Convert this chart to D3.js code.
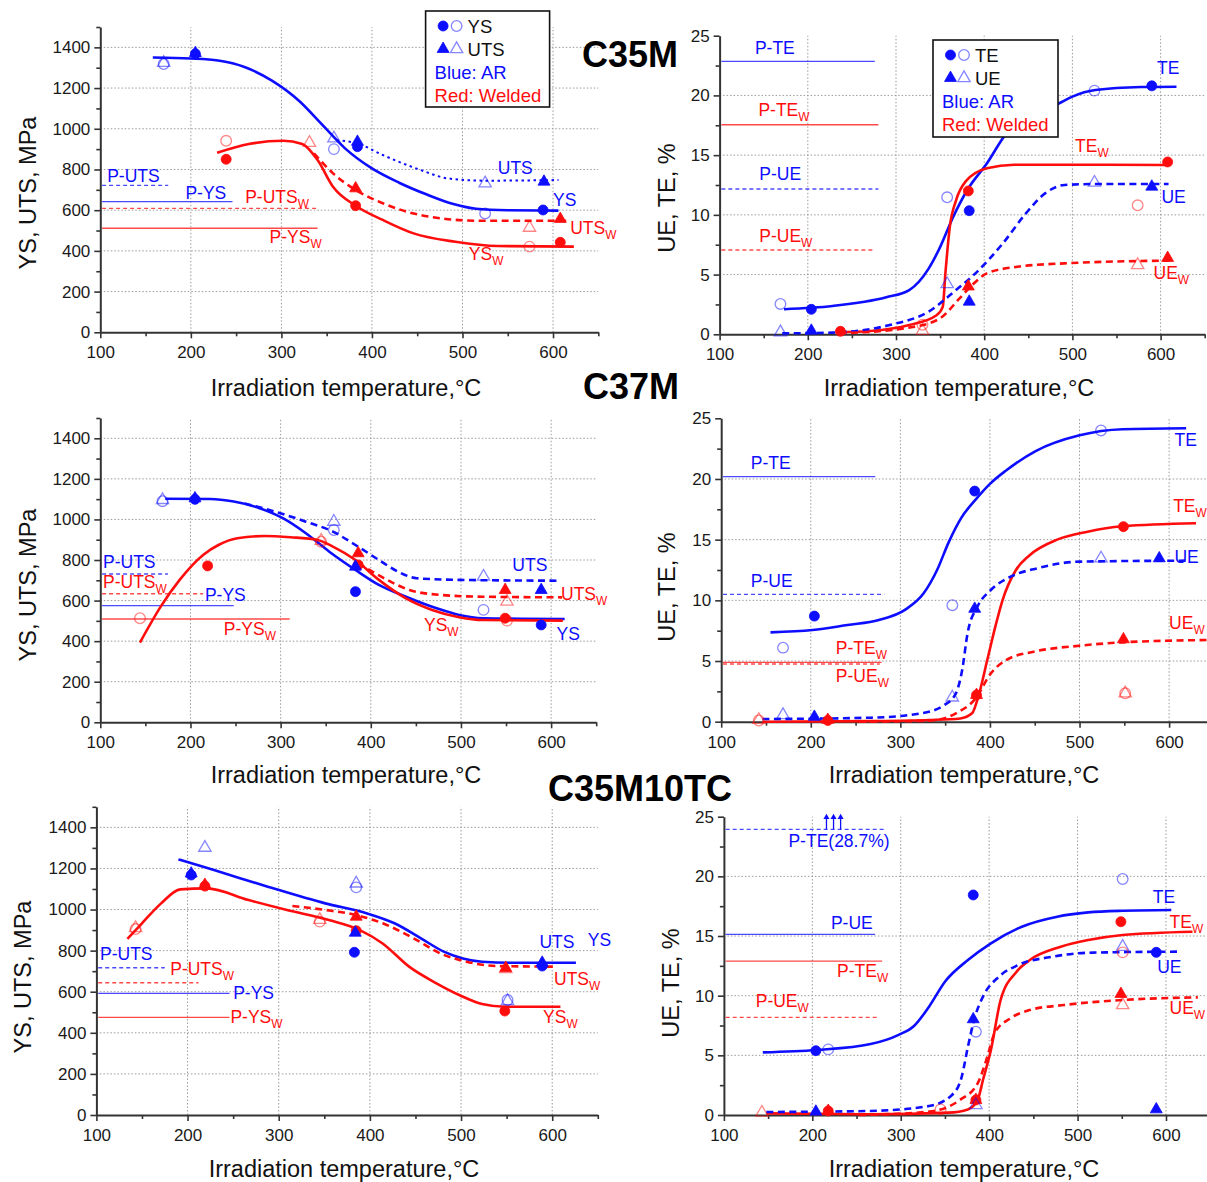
<!DOCTYPE html>
<html>
<head>
<meta charset="utf-8">
<script src="https://cdn.jsdelivr.net/npm/d3@7"></script>
<style>
  body { margin: 0; background: #fff; }
  svg { display: block; }
</style>
</head>
<body>
<svg id="fig" width="1207" height="1182"></svg>
<script>
// ticks
const tempTicks = [100, 200, 300, 400, 500, 600]
const tempMinor = [150, 250, 350, 450, 550, 650]
const strengthTicks = [0, 200, 400, 600, 800, 1000, 1200, 1400]
const strengthMinor = [100, 300, 500, 700, 900, 1100, 1300, 1500]
const elongTicks = [0, 5, 10, 15, 20, 25]
const elongMinor = [2.5, 7.5, 12.5, 17.5, 22.5]

// ---- C35M, strength ----
const c35m_YS = [[158,1350],[200,1345],[230,1335],[260,1302],[290,1235],[320,1135],[345,1020],[370,905],[400,805],[430,735],[460,678],[490,630],[515,607],[550,600],[606,598]]
const c35m_UTS = [[361,944],[384,928],[412,871],[454,797],[484,756],[526,745],[606,748]]
const c35m_YSw = [[229,882],[264,925],[302,941],[323,925],[340,846],[357,715],[382,622],[412,552],[446,486],[492,445],[539,424],[623,421]]
const c35m_UTSw = [[336,879],[357,781],[382,699],[412,634],[454,576],[518,548],[619,548]]
// [temp, value, property, material, filled/open]
const c35m_sPts = [
  [170,1318,"YS","AR","o"],[170,1324,"UTS","AR","o"],[205,1368,"YS","AR","f"],[205,1372,"UTS","AR","f"],
  [358,900,"YS","AR","o"],[358,953,"UTS","AR","o"],[384,912,"YS","AR","f"],[384,936,"UTS","AR","f"],
  [525,584,"YS","AR","o"],[525,732,"UTS","AR","o"],[589,601,"YS","AR","f"],[590,740,"UTS","AR","f"],
  [239,941,"YS","W","o"],[239,850,"YS","W","f"],[331,931,"UTS","W","o"],
  [382,622,"YS","W","f"],[382,707,"UTS","W","f"],[574,421,"YS","W","o"],[574,514,"UTS","W","o"],
  [608,442,"YS","W","f"],[608,557,"UTS","W","f"]
]
// [label, material, value, end temp]
const c35m_sRefs = [["P-UTS","AR",722,175],["P-YS","AR",642,246],["P-UTS","W",609,339],["P-YS","W",511,340]]
// [text, subscript, material, temp, value]
const c35m_sLabels = [
  ["P-UTS","","AR",107.6,740],["P-YS","","AR",194,653],["P-UTS","W","W",260,637],["P-YS","W","W",287,437],
  ["UTS","","AR",539,778],["YS","","AR",600,622],["UTS","W","W",619,483],["YS","W","W",507,355]
]

// ---- C35M, elongation ----
const c35m_TE = [[173,2.1],[228,2.37],[289,3.1],[315,3.7],[337,5.5],[350,7.3],[364,9.7],[381,12.1],[403,14.3],[425,16.8],[450,18.3],[484,19.3],[500,19.9],[526,20.45],[578,20.7],[618,20.73]]
const c35m_TEw = [[232,0.17],[271,0.28],[315,0.78],[346,1.6],[353,2.3],[356,5.1],[361,9.0],[368,11.2],[379,12.8],[403,13.9],[434,14.2],[535,14.2],[608,14.17]]
const c35m_UE = [[171,0.08],[228,0.14],[293,0.78],[337,1.9],[368,3.7],[390,5.1],[421,7.6],[447,10.1],[469,11.8],[491,12.5],[526,12.58],[609,12.58]]
const c35m_UEw = [[236,0.08],[315,0.56],[350,1.34],[372,3.0],[386,4.1],[403,5.1],[438,5.66],[491,5.94],[609,6.17]]
const c35m_ePts = [
  [169,2.54,"TE","AR","o"],[169,0.17,"UE","AR","o"],[204,2.09,"TE","AR","f"],[204,0.3,"UE","AR","f"],
  [237,0.25,"TE","W","f"],[330,0.8,"TE","W","o"],[330,0.3,"UE","W","o"],
  [358,11.47,"TE","AR","o"],[358,4.2,"UE","AR","o"],[382,12.0,"TE","W","f"],[383,10.35,"TE","AR","f"],
  [382,4.0,"UE","W","f"],[383,2.73,"UE","AR","f"],[525,20.4,"TE","AR","o"],[525,12.7,"UE","AR","o"],
  [590,20.8,"TE","AR","f"],[590,12.36,"UE","AR","f"],[574,10.8,"TE","W","o"],[574,5.8,"UE","W","o"],
  [608,14.43,"TE","W","f"],[608,6.39,"UE","W","f"]
]
const c35m_eRefs = [["P-TE","AR",22.85,276],["P-TE","W",17.55,280],["P-UE","AR",12.17,280],["P-UE","W",7.06,276]]
const c35m_eLabels = [
  ["P-TE","","AR",140,23.47],["P-TE","W","W",144,18.3],["P-UE","","AR",145,12.9],["P-UE","W","W",145,7.7],
  ["TE","","AR",596,21.8],["TE","W","W",503,15.23],["UE","","AR",601,10.97],["UE","W","W",592,4.6]
]

// ---- C37M, strength ----
const c37m_YS = [[172,1102],[222,1101],[248,1088],[269,1066],[303,1005],[328,932],[354,841],[383,751],[409,677],[439,619],[473,562],[498,529],[524,513],[615,509]]
const c37m_UTS = [[260,1079],[294,1038],[328,989],[358,940],[383,874],[409,800],[430,743],[451,710],[498,702],[608,698]]
const c37m_YSw = [[144,393],[167,570],[188,702],[214,825],[231,874],[252,907],[282,918],[311,912],[341,899],[358,866],[383,800],[409,702],[439,611],[468,554],[498,518],[524,504],[613,501]]
const c37m_UTSw = [[386,784],[405,734],[422,693],[443,652],[477,628],[524,619],[612,616]]
const c37m_sPts = [
  [169,1090,"YS","AR","o"],[169,1096,"UTS","AR","o"],[205,1099,"YS","AR","f"],[205,1104,"UTS","AR","f"],
  [219,771,"YS","W","f"],[144,513,"YS","W","o"],[359,948,"YS","AR","o"],[359,989,"UTS","AR","o"],
  [345,890,"YS","W","o"],[345,895,"UTS","W","o"],[386,833,"UTS","W","f"],[386,776,"YS","W","f"],
  [383,767,"UTS","AR","f"],[383,644,"YS","AR","f"],[525,554,"YS","AR","o"],[525,718,"UTS","AR","o"],
  [549,652,"UTS","W","f"],[551,595,"UTS","W","o"],[551,501,"YS","W","o"],[549,513,"YS","W","f"],
  [589,652,"UTS","AR","f"],[589,480,"YS","AR","f"]
]
const c37m_sRefs = [["P-UTS","AR",731,175],["P-UTS","W",634,214],["P-YS","AR",575,248],["P-YS","W",509,310]]
const c37m_sLabels = [
  ["P-UTS","","AR",103,762],["P-UTS","W","W",103,660],["P-YS","","AR",216,600],["P-YS","W","W",237,430],
  ["UTS","","AR",557,748],["UTS","W","W",611,603],["YS","W","W",459,450],["YS","","AR",606,406]
]

// ---- C37M, elongation ----
const c37m_TE = [[155,7.36],[202,7.55],[241,7.97],[276,8.38],[306,9.26],[326,10.58],[341,12.5],[354,14.8],[368,16.8],[384,18.3],[400,19.6],[418,20.7],[451,22.3],[500,23.6],[548,24.1],[619,24.18]]
const c37m_TEw = [[146,0],[267,0.05],[332,0.14],[367,0.27],[380,0.69],[388,2.34],[397,5.08],[406,7.83],[414,10.0],[429,12.5],[444,13.7],[475,15.0],[509,15.66],[548,16.1],[630,16.35]]
const c37m_UE = [[146,0.22],[267,0.33],[323,0.69],[349,1.37],[362,2.34],[369,4.26],[375,7.28],[386,9.48],[401,10.85],[423,11.95],[453,12.64],[500,13.19],[622,13.27]]
const c37m_UEw = [[254,0],[332,0.08],[362,0.69],[384,1.92],[401,3.98],[418,5.08],[449,5.77],[500,6.26],[548,6.54],[642,6.73]]
const c37m_ePts = [
  [142,0.1,"TE","W","o"],[142,0.15,"UE","W","o"],[169,0.55,"UE","AR","o"],[169,6.1,"TE","AR","o"],
  [204,8.7,"TE","AR","f"],[204,0.4,"UE","AR","f"],[219,0.1,"TE","W","f"],[219,0.15,"UE","W","f"],
  [358,9.6,"TE","AR","o"],[358,2.0,"UE","AR","o"],[383,19.0,"TE","AR","f"],[383,9.3,"UE","AR","f"],
  [385,2.2,"TE","W","f"],[385,2.2,"UE","W","f"],[524,24.0,"TE","AR","o"],[524,13.46,"UE","AR","o"],
  [549,16.07,"TE","W","f"],[549,6.79,"UE","W","f"],[551,2.34,"TE","W","o"],[551,2.34,"UE","W","o"],
  [589,13.46,"UE","AR","f"]
]
const c37m_eRefs = [["P-TE","AR",20.19,272],["P-UE","AR",10.49,282],["P-TE","W",4.89,279],["P-UE","W",4.75,277]]
const c37m_eLabels = [
  ["P-TE","","AR",133,20.8],["P-UE","","AR",133,11.07],["P-TE","W","W",228,5.55],["P-UE","W","W",228,3.3],
  ["TE","","AR",606,22.75],["TE","W","W",604.5,17.3],["UE","","AR",606,13.1],["UE","W","W",600,7.64]
]

// ---- C35M10TC, strength ----
const c35m10tc_AR = [[190,1244],[229,1192],[288,1111],[351,1030],[397,981],[427,933],[456,860],[481,795],[502,762],[523,746],[561,741],[626,741]]
const c35m10tc_UTSw = [[315,1017],[351,998],[385,973],[414,933],[448,860],[477,787],[506,746],[540,725],[605,722]]
const c35m10tc_YSw = [[134,857],[150,933],[171,1030],[192,1098],[221,1103],[267,1046],[309,998],[355,949],[389,900],[414,835],[443,722],[473,641],[498,584],[523,540],[548,527],[609,527]]
const c35m10tc_sPts = [
  [143,905,"YS","W","o"],[143,910,"UTS","W","o"],[204,1168,"YS","AR","f"],[204,1175,"UTS","AR","f"],
  [219,1301,"UTS","AR","o"],[219,1114,"YS","W","f"],[219,1120,"UTS","W","f"],[345,941,"YS","W","o"],
  [345,950,"UTS","W","o"],[385,1127,"UTS","AR","o"],[385,1108,"YS","AR","o"],[385,965,"UTS","W","f"],
  [385,897,"YS","W","f"],[384,887,"UTS","AR","f"],[383,792,"YS","AR","f"],[549,711,"UTS","W","o"],
  [549,715,"UTS","W","f"],[551,560,"YS","AR","o"],[551,555,"UTS","AR","o"],[548,506,"YS","W","f"],
  [589,741,"UTS","AR","f"],[589,725,"YS","AR","f"]
]
const c35m10tc_sRefs = [["P-UTS","AR",717,175],["P-UTS","W",644,212],["P-YS","AR",592,246],["P-YS","W",475,246]]
const c35m10tc_sLabels = [
  ["P-UTS","","AR",104,754],["P-UTS","W","W",181,681],["P-YS","","AR",250,565],["P-YS","W","W",247,449],
  ["UTS","","AR",586,811],["YS","","AR",639,824],["UTS","W","W",602,633],["YS","W","W",590,446]
]

// ---- C35M10TC, elongation ----
const c35m10tc_TE = [[144,5.25],[205,5.45],[266,5.95],[297,6.7],[315,7.46],[332,9.08],[350,11.17],[376,12.99],[402,14.39],[437,15.78],[477,16.62],[512,16.98],[551,17.12],[606,17.18]]
const c35m10tc_TEw = [[148,0.14],[266,0.06],[354,0.2],[376,0.47],[387,1.26],[393,2.93],[402,5.45],[413,9.64],[431,12.01],[446,12.99],[481,14.1],[512,14.66],[551,15.08],[630,15.36]]
const c35m10tc_UE = [[148,0.25],[266,0.34],[332,0.75],[358,1.68],[369,3.21],[376,5.73],[384,8.24],[393,9.92],[411,11.59],[433,12.57],[472,13.27],[512,13.6],[617,13.69]]
const c35m10tc_UEw = [[253,0],[332,0.28],[367,1.26],[387,2.65],[398,4.89],[406,6.84],[424,8.1],[446,8.8],[485,9.22],[551,9.64],[636,9.86]]
const c35m10tc_ePts = [
  [143,0.2,"UE","W","o"],[204,5.39,"TE","AR","f"],[204,0.28,"UE","AR","f"],[218,5.5,"TE","AR","o"],
  [218,0.34,"TE","W","f"],[218,0.34,"UE","W","f"],[345,0.47,"TE","W","o"],[382,18.44,"TE","AR","f"],
  [382,8.02,"UE","AR","f"],[385,6.98,"TE","AR","o"],[385,1.26,"TE","W","f"],[385,1.26,"UE","W","f"],
  [385,0.84,"UE","AR","o"],[551,19.78,"TE","AR","o"],[549,16.2,"TE","W","f"],[551,14.1,"UE","AR","o"],
  [551,13.63,"TE","W","o"],[589,13.63,"TE","AR","f"],[549,10.14,"UE","W","f"],[551,9.22,"UE","W","o"],
  [589,0.47,"UE","AR","f"]
]
const c35m10tc_eRefs = [["P-TE(28.7%)","AR",23.94,283],["P-UE","AR",15.14,271],["P-TE","W",12.9,279],["P-UE","W",8.18,274]]
const c35m10tc_eLabels = [
  ["P-TE(28.7%)","","AR",173,22.43],["P-UE","","AR",221,15.56],["P-TE","W","W",228,11.6],["P-UE","W","W",136,9.08],
  ["TE","","AR",585,17.8],["TE","W","W",604,15.7],["UE","","AR",590,11.9],["UE","W","W",604,8.46]
]
const c35m10tc_arrows = [216, 224, 232]

const steelNames = ["C35M", "C37M", "C35M10TC"]
const legendS = ["YS", "UTS"]
const legendE = ["TE", "UE"]
const legendMat = ["Blue: AR", "Red: Welded"]

const FONT = "'Liberation Sans', Arial, Helvetica, sans-serif"
const BLUE = "#0d0dff"
const RED = "#ff0d0d"
const col = m => (m === "AR" ? BLUE : RED)

const svg = d3.select("#fig").style("font-family", FONT)

const panels = [
	{ kind: "S", xr: [100.3, 598.3], yr: [332.3, 27.0], xt: [346, 396], yt: [36, 193],
		curves: [[c35m_YS, "AR", "YS"], [c35m_UTS, "AR", "UTS"], [c35m_YSw, "W", "YS"], [c35m_UTSw, "W", "UTS"]],
		dottedCurve: 1, pts: c35m_sPts, refs: c35m_sRefs, refDash: [1, 0, 1, 0], labels: c35m_sLabels },
	{ kind: "E", xr: [719.6, 1204.7], yr: [334.3, 35.7], xt: [959, 396], yt: [675, 198],
		curves: [[c35m_TE, "AR", "TE"], [c35m_TEw, "W", "TE"], [c35m_UE, "AR", "UE"], [c35m_UEw, "W", "UE"]],
		pts: c35m_ePts, refs: c35m_eRefs, refDash: [0, 0, 1, 1], labels: c35m_eLabels },
	{ kind: "S", xr: [100.3, 596.2], yr: [722.3, 418.0], xt: [346, 783], yt: [36, 585],
		curves: [[c37m_YS, "AR", "YS"], [c37m_UTS, "AR", "UTS"], [c37m_YSw, "W", "YS"], [c37m_UTSw, "W", "UTS"]],
		pts: c37m_sPts, refs: c37m_sRefs, refDash: [1, 1, 0, 0], labels: c37m_sLabels },
	{ kind: "E", xr: [721.2, 1213.9], yr: [721.7, 418.3], xt: [964, 783], yt: [675, 587],
		curves: [[c37m_TE, "AR", "TE"], [c37m_TEw, "W", "TE"], [c37m_UE, "AR", "UE"], [c37m_UEw, "W", "UE"]],
		pts: c37m_ePts, refs: c37m_eRefs, refDash: [0, 1, 0, 1], labels: c37m_eLabels },
	{ kind: "S", xr: [96.4, 597.8], yr: [1115, 806.8], xt: [344, 1177], yt: [31, 977],
		curves: [[c35m10tc_AR, "AR", "YS"], [c35m10tc_UTSw, "W", "UTS"], [c35m10tc_YSw, "W", "YS"]],
		pts: c35m10tc_sPts, refs: c35m10tc_sRefs, refDash: [1, 1, 0, 0], labels: c35m10tc_sLabels },
	{ kind: "E", xr: [723.9, 1210.2], yr: [1115, 816.7], xt: [964, 1177], yt: [679, 983],
		curves: [[c35m10tc_TE, "AR", "TE"], [c35m10tc_TEw, "W", "TE"], [c35m10tc_UE, "AR", "UE"], [c35m10tc_UEw, "W", "UE"]],
		pts: c35m10tc_ePts, refs: c35m10tc_eRefs, refDash: [1, 0, 0, 1], labels: c35m10tc_eLabels,
		arrows: c35m10tc_arrows },
]

function drawMarker(g, d, x, y) {
	const c = col(d[3])
	const filled = d[4] === "f"
	let m
	if (d[2] === "YS" || d[2] === "TE") {
		m = g.append("circle").attr("cx", x(d[0])).attr("cy", y(d[1])).attr("r", filled ? 5 : 5.3)
	} else {
		m = g.append("path")
			.attr("d", d3.symbol(d3.symbolTriangle, filled ? 62 : 66)())
			.attr("transform", `translate(${x(d[0])},${y(d[1])})`)
	}
	if (filled) m.attr("fill", c).attr("stroke", c).attr("stroke-width", 0.8)
	else m.attr("fill", "none").attr("stroke", c).attr("stroke-opacity", 0.5).attr("stroke-width", 1.3)
}

function addLabel(g, x0, y0, txt, sub, c, size) {
	const t = g.append("text").attr("x", x0).attr("y", y0).attr("fill", c)
		.style("font-size", size + "px").text(txt)
	if (sub) t.append("tspan").attr("dy", 5).style("font-size", size * 0.68 + "px").text(sub)
	return t
}

function drawPanel(p) {
	const isS = p.kind === "S"
	const x = d3.scaleLinear().domain([100, 650]).range(p.xr)
	const y = d3.scaleLinear().domain(isS ? [0, 1500] : [0, 25]).range(p.yr)
	const g = svg.append("g")
	const majY = isS ? strengthTicks : elongTicks
	const minY = isS ? strengthMinor : elongMinor
	const top = y.domain()[1]

	// grid
	g.selectAll(".gx").data(tempTicks.slice(1)).join("line").attr("class", "gx")
		.attr("x1", d => x(d)).attr("x2", d => x(d)).attr("y1", y(0)).attr("y2", y(top))
	g.selectAll(".gy").data(majY.filter(v => v > 0 && v < top)).join("line").attr("class", "gy")
		.attr("x1", x(100)).attr("x2", x(650)).attr("y1", d => y(d)).attr("y2", d => y(d))
	g.selectAll(".gx,.gy").attr("stroke", "#9a9a9a").attr("stroke-width", 1).attr("stroke-dasharray", "1.5,2")

	// axes
	const styleAxis = a => {
		a.attr("font-family", FONT).attr("font-size", 17)
		a.select(".domain").attr("stroke", "#333").attr("stroke-width", 2)
		a.selectAll(".tick line").attr("stroke", "#333").attr("stroke-width", 1.6)
		a.selectAll(".tick text").attr("fill", "#1a1a1a")
	}
	g.append("g").attr("transform", `translate(0,${y(0)})`)
		.call(d3.axisBottom(x).tickValues(tempTicks).tickSize(6).tickPadding(8).tickSizeOuter(0).tickFormat(d3.format("d")))
		.call(styleAxis)
	g.append("g").attr("transform", `translate(0,${y(0)})`)
		.call(d3.axisBottom(x).tickValues(tempMinor).tickSize(4).tickFormat(""))
		.call(a => a.select(".domain").remove()).call(styleAxis)
	g.append("g").attr("transform", `translate(${x(100)},0)`)
		.call(d3.axisLeft(y).tickValues(majY).tickSize(6).tickPadding(4).tickSizeOuter(0).tickFormat(d3.format("d")))
		.call(styleAxis)
	g.append("g").attr("transform", `translate(${x(100)},0)`)
		.call(d3.axisLeft(y).tickValues(minY).tickSize(4).tickFormat(""))
		.call(a => a.select(".domain").remove()).call(styleAxis)

	// reference (pre-irradiation) lines
	p.refs.forEach((r, i) => {
		g.append("line").attr("x1", x(102)).attr("x2", x(r[3])).attr("y1", y(r[2])).attr("y2", y(r[2]))
			.attr("stroke", col(r[1])).attr("stroke-opacity", 0.75).attr("stroke-width", 1.4)
			.attr("stroke-dasharray", p.refDash[i] ? "4,3" : null)
	})

	// fitted curves
	const line = d3.line().x(d => x(d[0])).y(d => y(d[1])).curve(d3.curveMonotoneX)
	p.curves.forEach((c, i) => {
		const dashed = c[2] === "UTS" || c[2] === "UE"
		g.append("path").attr("d", line(c[0])).attr("fill", "none")
			.attr("stroke", col(c[1])).attr("stroke-width", p.dottedCurve === i ? 2 : 2.6)
			.attr("stroke-dasharray", p.dottedCurve === i ? "2.5,3.5" : dashed ? "7,4.5" : null)
	})

	// data points
	p.pts.forEach(d => drawMarker(g, d, x, y))

	// arrows for off-scale reference
	if (p.arrows) {
		p.arrows.forEach(a => {
			g.append("line").attr("x1", x(a)).attr("x2", x(a)).attr("y1", y(23.94)).attr("y2", y(24.9))
				.attr("stroke", BLUE).attr("stroke-width", 1.3)
			g.append("path").attr("d", d3.symbol(d3.symbolTriangle, 16)())
				.attr("transform", `translate(${x(a)},${y(24.95)})`).attr("fill", BLUE)
		})
	}

	// text labels
	p.labels.forEach(l => addLabel(g, x(l[3]), y(l[4]), l[0], l[1], col(l[2]), 17.5))

	// axis titles
	g.append("text").attr("x", p.xt[0]).attr("y", p.xt[1]).attr("text-anchor", "middle")
		.style("font-size", "23.5px").attr("fill", "#111").text("Irradiation temperature,°C")
	g.append("text").attr("transform", `translate(${p.yt[0]},${p.yt[1]}) rotate(-90)`).attr("text-anchor", "middle")
		.style("font-size", "23.5px").attr("fill", "#111").text(isS ? "YS, UTS, MPa" : "UE, TE, %")
	return { x, y }
}

panels.forEach(drawPanel)

// legends
function drawLegend(bx, by, bw, bh, names) {
	const g = svg.append("g")
	g.append("rect").attr("x", bx).attr("y", by).attr("width", bw).attr("height", bh)
		.attr("fill", "#fff").attr("stroke", "#111").attr("stroke-width", 1.6)
	names.forEach((n, i) => {
		const cy = by + 15 + i * 23
		const filled = [n, 0, i === 0 ? "YS" : "UTS", "AR", "f"]
		const open = [n, 0, i === 0 ? "YS" : "UTS", "AR", "o"]
		const fx = () => bx + 17.5
		const ox = () => bx + 31
		drawMarker(g, filled, fx, () => cy)
		drawMarker(g, open, ox, () => cy)
		g.append("text").attr("x", bx + 42).attr("y", cy + 6.8).style("font-size", "18.5px").attr("fill", "#111").text(n)
	})
	legendMat.forEach((t, i) => {
		g.append("text").attr("x", bx + 9).attr("y", by + 68 + i * 23).style("font-size", "18.5px")
			.attr("fill", i === 0 ? BLUE : RED).text(t)
	})
}
drawLegend(425.6, 11, 124, 96, legendS)
drawLegend(933, 40, 125, 97, legendE)

// steel titles
const titlePos = [[630, 67], [631, 399], [640, 801]]
steelNames.forEach((s, i) => {
	svg.append("text").attr("x", titlePos[i][0]).attr("y", titlePos[i][1]).attr("text-anchor", "middle")
		.style("font-size", "36px").style("font-weight", "bold").attr("fill", "#000").text(s)
})
</script>
</body>
</html>
